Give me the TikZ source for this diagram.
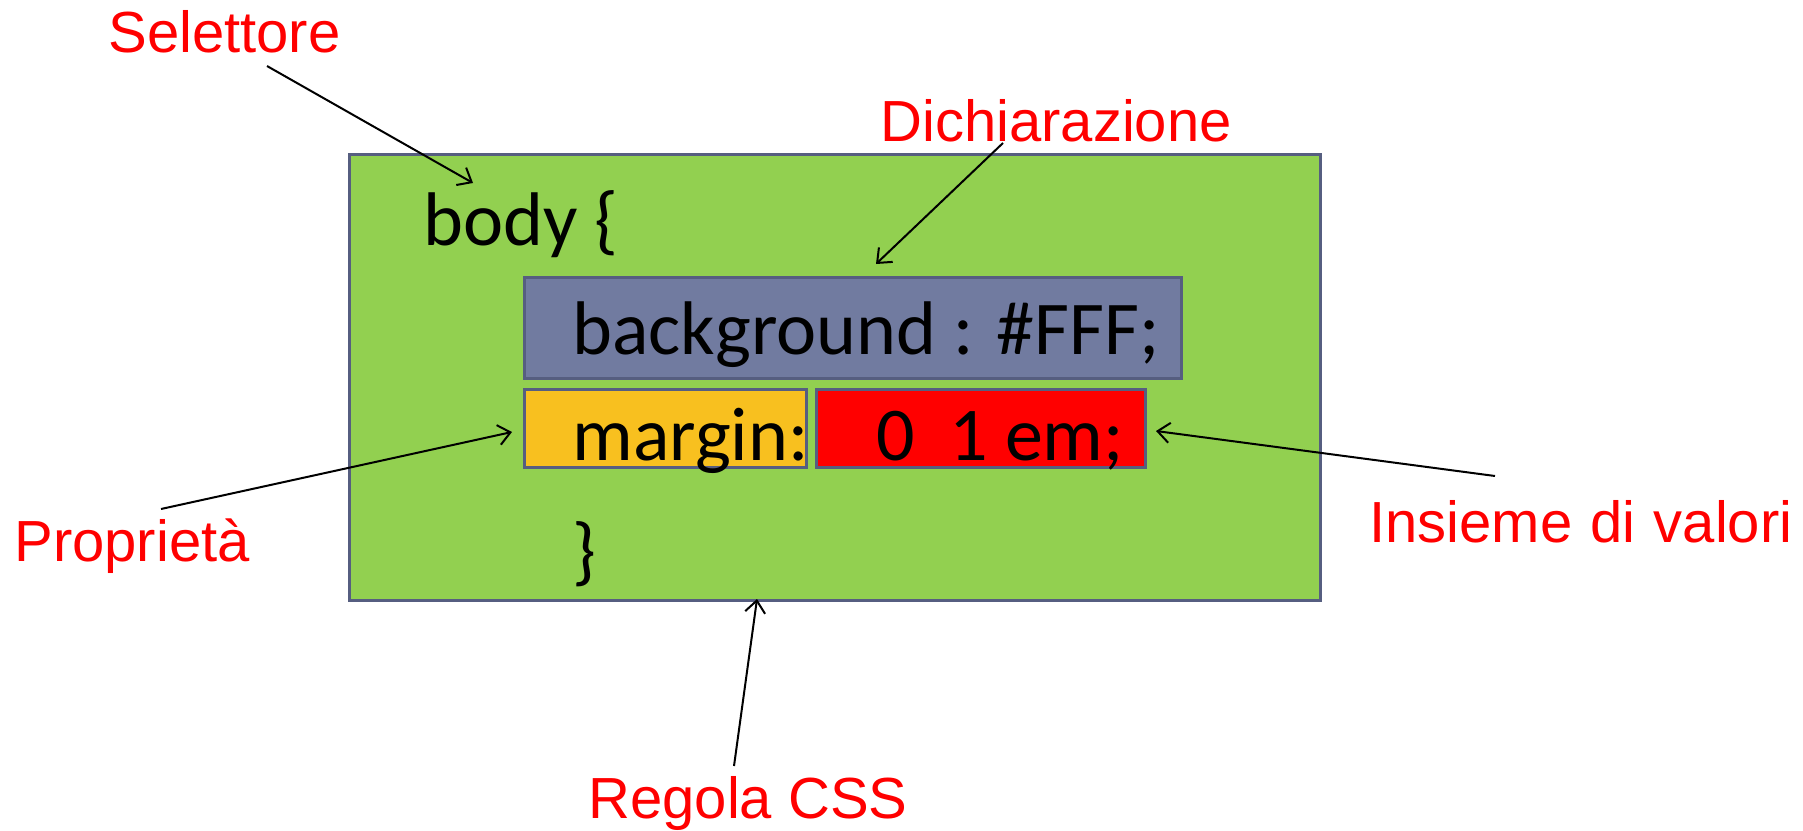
\documentclass[tikz,border=0pt]{standalone}
\usepackage{fontspec}
\setmainfont{Carlito}
\newfontfamily\labfont{Liberation Sans}
\usetikzlibrary{arrows.meta}
\definecolor{cssgreen}{HTML}{92D050}
\definecolor{cssblue}{HTML}{717BA0}
\definecolor{cssyellow}{HTML}{F8C01F}
\definecolor{cssred}{HTML}{FF0000}
\definecolor{cssborder}{HTML}{565E80}
\tikzset{
  box/.style={draw=cssborder, line width=1.5pt, anchor=north west, inner sep=0pt},
  code/.style={anchor=base west, inner sep=0pt, font=\fontsize{38}{40}\selectfont, text=black},
  lab/.style={anchor=base west, inner sep=0pt, font=\labfont\fontsize{29}{31}\selectfont, text=cssred},
  pointer/.style={draw=black, line width=1pt, -{Straight Barb[length=6pt,width=10pt]}}
}
\begin{document}
\begin{tikzpicture}[x=0.5pt,y=-0.5pt]
\useasboundingbox (0,0) rectangle (1803,830);
% boxes
\node[box, fill=cssgreen, minimum width=485.5pt, minimum height=223pt] (rule) at (348,153) {};
\node[box, fill=cssblue, minimum width=328.5pt, minimum height=50.5pt] (decl) at (523,276) {};
\node[box, fill=cssyellow, minimum width=141pt, minimum height=39pt] (prop) at (523,388) {};
\node[box, fill=cssred, minimum width=164.5pt, minimum height=39pt] (vals) at (815,388) {};
% code text
\node[code] (body) at (423,245) {body \{};
\node[code] (bg) at (572,354) {background : \#FFF;};
\node[code] (margin) at (572,460) {margin:};
\node[code] (value) at (876,460) {0\ \ 1 em;};
\node[code] (close) at (572,576) {\}};
% labels
\node[lab] (lsel) at (108,52) {Selettore};
\node[lab] (ldich) at (880,141) {Dichiarazione};
\node[lab] (lprop) at (14,561) {Proprietà};
\node[lab] (lins) at (1369,542) {Insieme\hspace{1pt} di\hspace{1pt} valori};
\node[lab] (lreg) at (588,818) {Regola CSS};
% connector ends
\coordinate (s1) at (267,66);   \coordinate (e1) at (473,183);
\coordinate (s2) at (1003,143); \coordinate (e2) at (876,264);
\coordinate (s3) at (161,509);  \coordinate (e3) at (512,432);
\coordinate (s4) at (1495,476); \coordinate (e4) at (1156,431);
\coordinate (s5) at (734,766);  \coordinate (e5) at (757,599);
\draw[pointer] (s1) -- (e1);
\draw[pointer] (s2) -- (e2);
\draw[pointer] (s3) -- (e3);
\draw[pointer] (s4) -- (e4);
\draw[pointer] (s5) -- (e5);
\end{tikzpicture}
\end{document}
